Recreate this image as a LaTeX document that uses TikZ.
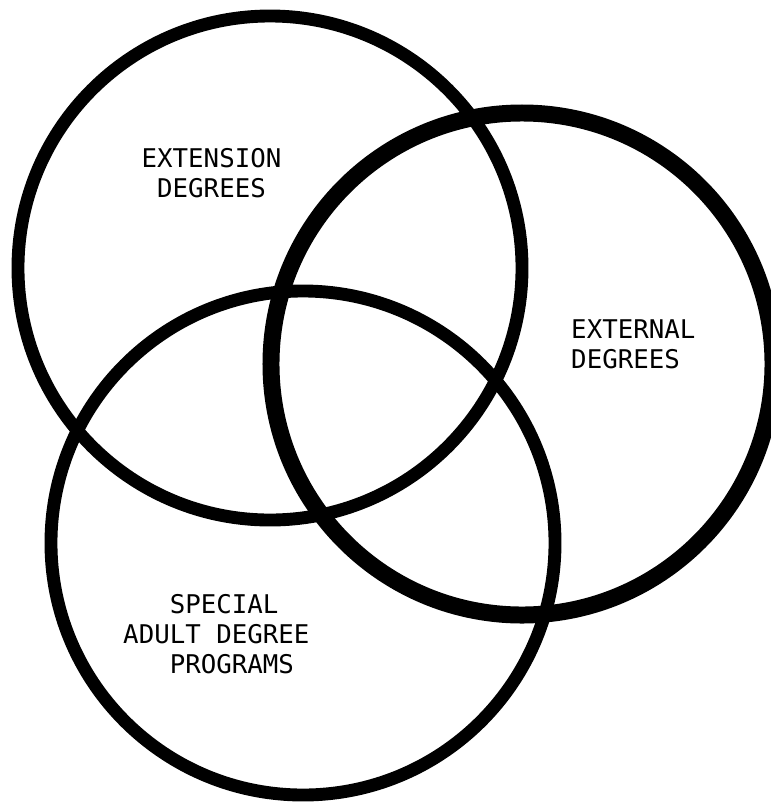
\documentclass[tikz,border=0pt]{standalone}
\usepackage{fontspec}
\newfontfamily\typewriter{DejaVu Sans Mono}
\usepackage{tikz}

\begin{document}
\begin{tikzpicture}[
			x=0.03cm, y=-0.03cm,
			ring/.style={draw=black, line width=11pt},
			heavyring/.style={draw=black, line width=14.5pt},
			label/.style={inner sep=0pt, font=\typewriter\fontsize{22pt}{25.6pt}\selectfont}
			]
			\useasboundingbox[fill=white] (0,0) rectangle (770,802);
			
			% the three areas
			\draw[ring] (270,268) circle [radius=7.56cm];
			\draw[heavyring] (522,364) circle [radius=7.53cm];
			\draw[ring] (303,543) circle [radius=7.56cm];
			
			% base is the baseline of the last line
			\node[label, align=center, anchor=base] (extension) at (211.5,197) {EXTENSION\\DEGREES};
			\node[label, align=left, anchor=base west] (external) at (571,368) {EXTERNAL\\DEGREES};
			\node[label, align=left, anchor=base west] (special) at (123,673) {\phantom{ADU}SPECIAL\\ADULT DEGREE\\\phantom{ADU}PROGRAMS};
		\end{tikzpicture}
\end{document}
